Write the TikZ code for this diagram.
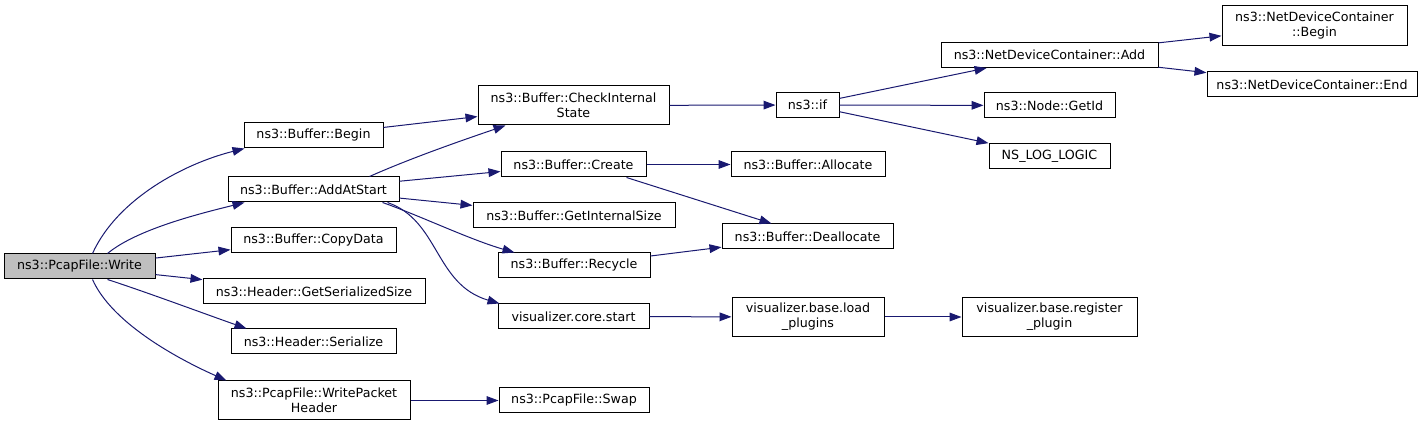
\documentclass[tikz,border=0pt]{standalone}
\usepackage{fontspec}
\setmainfont{DejaVu Sans}
\usetikzlibrary{arrows.meta,calc}
\definecolor{edgeblue}{HTML}{191970}
\definecolor{rootgray}{HTML}{BFBFBF}
\begin{document}
\begin{tikzpicture}[x=0.75pt,y=-0.75pt,
  box/.style 2 args={draw=black, line width=0.75pt, fill=white, inner sep=0pt,
    minimum width=#1*0.75pt, minimum height=#2*0.75pt, align=center,
    font=\fontsize{9.5}{11.25}\selectfont},
  call/.style={draw=edgeblue, line width=0.75pt, -{Triangle[length=9pt,width=6.5pt]}}]
\useasboundingbox (0,0) rectangle (1428,427);
% nodes
\node[box={151}{25}, fill=rootgray] (write) at (79.5,266.5) {ns3::PcapFile::Write};
\node[box={139}{25}] (begin) at (313.5,135.5) {ns3::Buffer::Begin};
\node[box={171}{25}] (add) at (313.5,189.5) {ns3::Buffer::AddAtStart};
\node[box={165}{25}] (copy) at (313.5,240.5) {ns3::Buffer::CopyData};
\node[box={222}{25}] (gss) at (314,291.5) {ns3::Header::GetSerializedSize};
\node[box={165}{25}] (ser) at (313.5,341.5) {ns3::Header::Serialize};
\node[box={192}{39}] (wph) at (314,400.5) {ns3::PcapFile::WritePacket\\Header};
\node[box={191}{39}] (cis) at (573.5,105.5) {ns3::Buffer::CheckInternal\\State};
\node[box={145}{25}] (create) at (573.5,164.5) {ns3::Buffer::Create};
\node[box={202}{25}] (gis) at (574,215.5) {ns3::Buffer::GetInternalSize};
\node[box={152}{25}] (recycle) at (574,265.5) {ns3::Buffer::Recycle};
\node[box={151}{25}] (start) at (573.5,316.5) {visualizer.core.start};
\node[box={150}{25}] (swap) at (574,400.5) {ns3::PcapFile::Swap};
\node[box={63}{25}] (if) at (807.5,105) {ns3::if};
\node[box={154}{25}] (alloc) at (808,164.5) {ns3::Buffer::Allocate};
\node[box={171}{25}] (dealloc) at (807.5,236.5) {ns3::Buffer::Deallocate};
\node[box={152}{39}] (load) at (808,317) {visualizer.base.load\\\_plugins};
\node[box={217}{25}] (ndcadd) at (1049.5,55) {ns3::NetDeviceContainer::Add};
\node[box={131}{25}] (getid) at (1049.5,105.5) {ns3::Node::GetId};
\node[box={121}{25}] (nslog) at (1049.5,156) {NS\_LOG\_LOGIC};
\node[box={175}{39}] (reg) at (1049.5,317) {visualizer.base.register\\\_plugin};
\node[box={185}{40}] (ndcb) at (1314.5,25.5) {ns3::NetDeviceContainer\\::Begin};
\node[box={210}{25}] (ndce) at (1312,84.5) {ns3::NetDeviceContainer::End};
% edges
\draw[call] ($(write.north west)+(89,0)$) .. controls +(25,-55) and +(-60,15) .. ($(begin.south west)+(1,0)$);
\draw[call] ($(write.north west)+(104,0)$) .. controls +(30,-25) and +(-40,10) .. ($(add.south west)+(17,0)$);
\draw[call] (write) -- (copy);
\draw[call] (write) -- (gss);
\draw[call] ($(write.south west)+(104,0)$) .. controls +(40,13) and +(-40,-14) .. ($(ser.north west)+(16,0)$);
\draw[call] ($(write.south west)+(89,0)$) .. controls +(20,45) and +(-45,-20) .. ($(wph.north west)+(9,0)$);
\draw[call] (begin) -- (cis);
\draw[call] ($(add.north west)+(142,0)$) .. controls +(45,-20) and +(-35,12) .. ($(cis.south west)+(28,0)$);
\draw[call] (add) -- (create);
\draw[call] (add) -- (gis);
\draw[call] ($(add.south west)+(155,0)$) .. controls +(37,13) and +(-45,-13) .. ($(recycle.north west)+(17,0)$);
\draw[call] ($(add.south west)+(160,0)$) .. controls +(52,18) and +(-65,-19) .. ($(start.north west)+(2,0)$);
\draw[call] (cis) -- (if);
\draw[call] (create) -- (alloc);
\draw[call] ($(create.south west)+(126,0)$) -- ($(dealloc.north west)+(50,0)$);
\draw[call] (recycle) -- (dealloc);
\draw[call] (start) -- (load);
\draw[call] (load) -- (reg);
\draw[call] (wph) -- (swap);
\draw[call] (if) -- (ndcadd);
\draw[call] (if) -- (getid);
\draw[call] (if) -- (nslog);
\draw[call] (ndcadd) -- (ndcb);
\draw[call] (ndcadd) -- (ndce);
\end{tikzpicture}
\end{document}
